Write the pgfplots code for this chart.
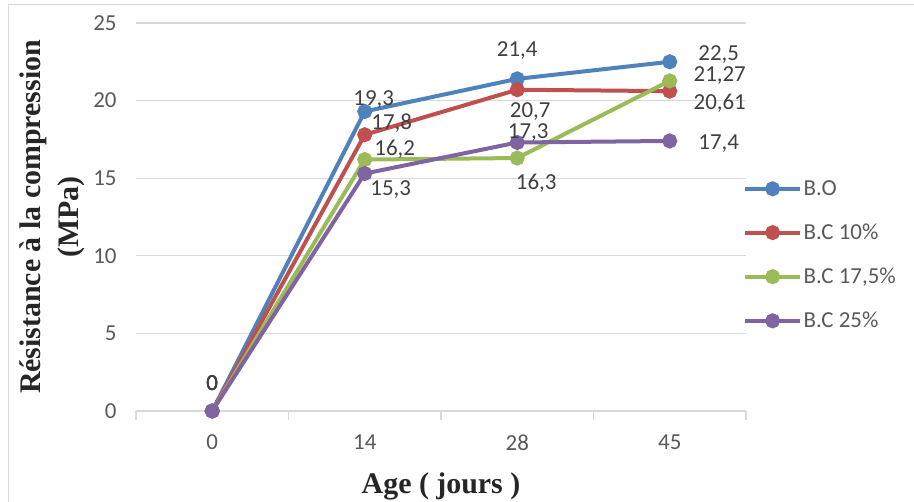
\documentclass[border=0pt]{standalone}
\usepackage{pgfplots}
\usepackage{pgfplotstable}
\pgfplotsset{compat=1.18}
\usepackage{fontspec}
\setmainfont{Carlito}
\newfontfamily\tnr{Liberation Serif}
\definecolor{cBO}{HTML}{4F81BD}
\definecolor{cC10}{HTML}{C0504D}
\definecolor{cC17}{HTML}{9BBB59}
\definecolor{cC25}{HTML}{8064A2}
\definecolor{cGrid}{HTML}{D9D9D9}
\definecolor{cTick}{HTML}{595959}
\definecolor{cLab}{HTML}{404040}
\definecolor{cTitle}{HTML}{262626}

\pgfplotstableread{
x y lab dx dy
0 0 0 0 28
1 19.3 19,3 9 12
2 21.4 21,4 0 28
3 22.5 22,5 49 7
}\tBO
\pgfplotstableread{
x y lab dx dy
0 0 0 0 28
1 17.8 17,8 27 12
2 20.7 20,7 13 -22
3 20.61 20,61 50 -12.5
}\tCten
\pgfplotstableread{
x y lab dx dy
0 0 0 0 28
1 16.2 16,2 30 10
2 16.3 16,3 19 -25
3 21.27 21,27 50 5
}\tCseventeen
\pgfplotstableread{
x y lab dx dy
0 0 0 0 28
1 15.3 15,3 26 -16
2 17.3 17,3 11 10
3 17.4 17,4 49 -2.5
}\tCtwentyfive

\begin{document}
\begin{tikzpicture}
\useasboundingbox (-136bp,-91bp) rectangle (778bp,411bp);
\draw[cGrid, line width=1bp] (-127bp,-91bp) -- (-127bp,406bp) -- (778bp,406bp);
\begin{axis}[
  at={(0,0)}, anchor=south west,
  scale only axis, width=610bp, height=388bp,
  clip=false,
  /pgf/number format/assume math mode=true,
  xmin=-0.5, xmax=3.5, ymin=0, ymax=25,
  xtick={0,1,2,3}, xticklabels={0,14,28,45},
  minor xtick={-0.5,0.5,1.5,2.5,3.5},
  ytick={0,5,10,15,20,25},
  axis x line*=bottom, axis y line*=left,
  y axis line style={draw=none},
  x axis line style={draw=cGrid, line width=1.3bp},
  major x tick style={draw=none},
  minor x tick style={draw=cGrid, line width=1.3bp},
  ytick style={draw=none},
  tick align=outside, minor tick length=9bp, major tick length=0bp,
  ymajorgrids, grid style={draw=cGrid, line width=1.3bp},
  tick label style={font=\fontsize{23}{23}\selectfont, text=cTick},
  xticklabel style={yshift=-20bp},
  yticklabel style={xshift=-16bp},
  xlabel={Age ( jours )},
  xlabel style={at={(axis description cs:0.5,0)}, anchor=center, yshift=-75bp,
    font=\tnr\bfseries\fontsize{30}{36}\selectfont, text=cTitle},
  ylabel={Résistance à la compression\\(MPa)},
  ylabel style={at={(axis description cs:-0.1377,0.5)}, anchor=center, align=center,
    font=\tnr\bfseries\fontsize{30}{38}\selectfont, text=cTitle},
  every axis plot/.append style={line width=4bp, mark=*, mark size=5.5bp,
    mark options={solid, line width=0.5bp}},
  point meta=explicit symbolic,
  nodes near coords,
  visualization depends on={\thisrow{dx}\as\mydx},
  visualization depends on={\thisrow{dy}\as\mydy},
  nodes near coords style={anchor=center, xshift=\mydx bp, yshift=\mydy bp,
    font=\fontsize{23}{23}\selectfont, text=cLab, inner sep=0pt},
  legend style={at={(axis description cs:0.995,0.402)}, anchor=west,
    draw=none, fill=none, inner sep=0pt, row sep=24bp,
    font=\fontsize{23}{23}\selectfont, text=cTick,
    nodes={inner sep=1.5bp}},
  legend cell align=left,
  legend image code/.code={
    \draw[mark repeat=2, mark phase=2, #1] plot coordinates {(0bp,0bp) (27.5bp,0bp) (55bp,0bp)};
  },
]
\addplot[color=cBO, mark options={fill=cBO}] table[x=x, y=y, meta=lab] {\tBO};
\addlegendentry{B.O}
\addplot[color=cC10, mark options={fill=cC10}] table[x=x, y=y, meta=lab] {\tCten};
\addlegendentry{B.C 10\%}
\addplot[color=cC17, mark options={fill=cC17}] table[x=x, y=y, meta=lab] {\tCseventeen};
\addlegendentry{B.C 17,5\%}
\addplot[color=cC25, mark options={fill=cC25}] table[x=x, y=y, meta=lab] {\tCtwentyfive};
\addlegendentry{B.C 25\%}
\end{axis}
\end{tikzpicture}
\end{document}
